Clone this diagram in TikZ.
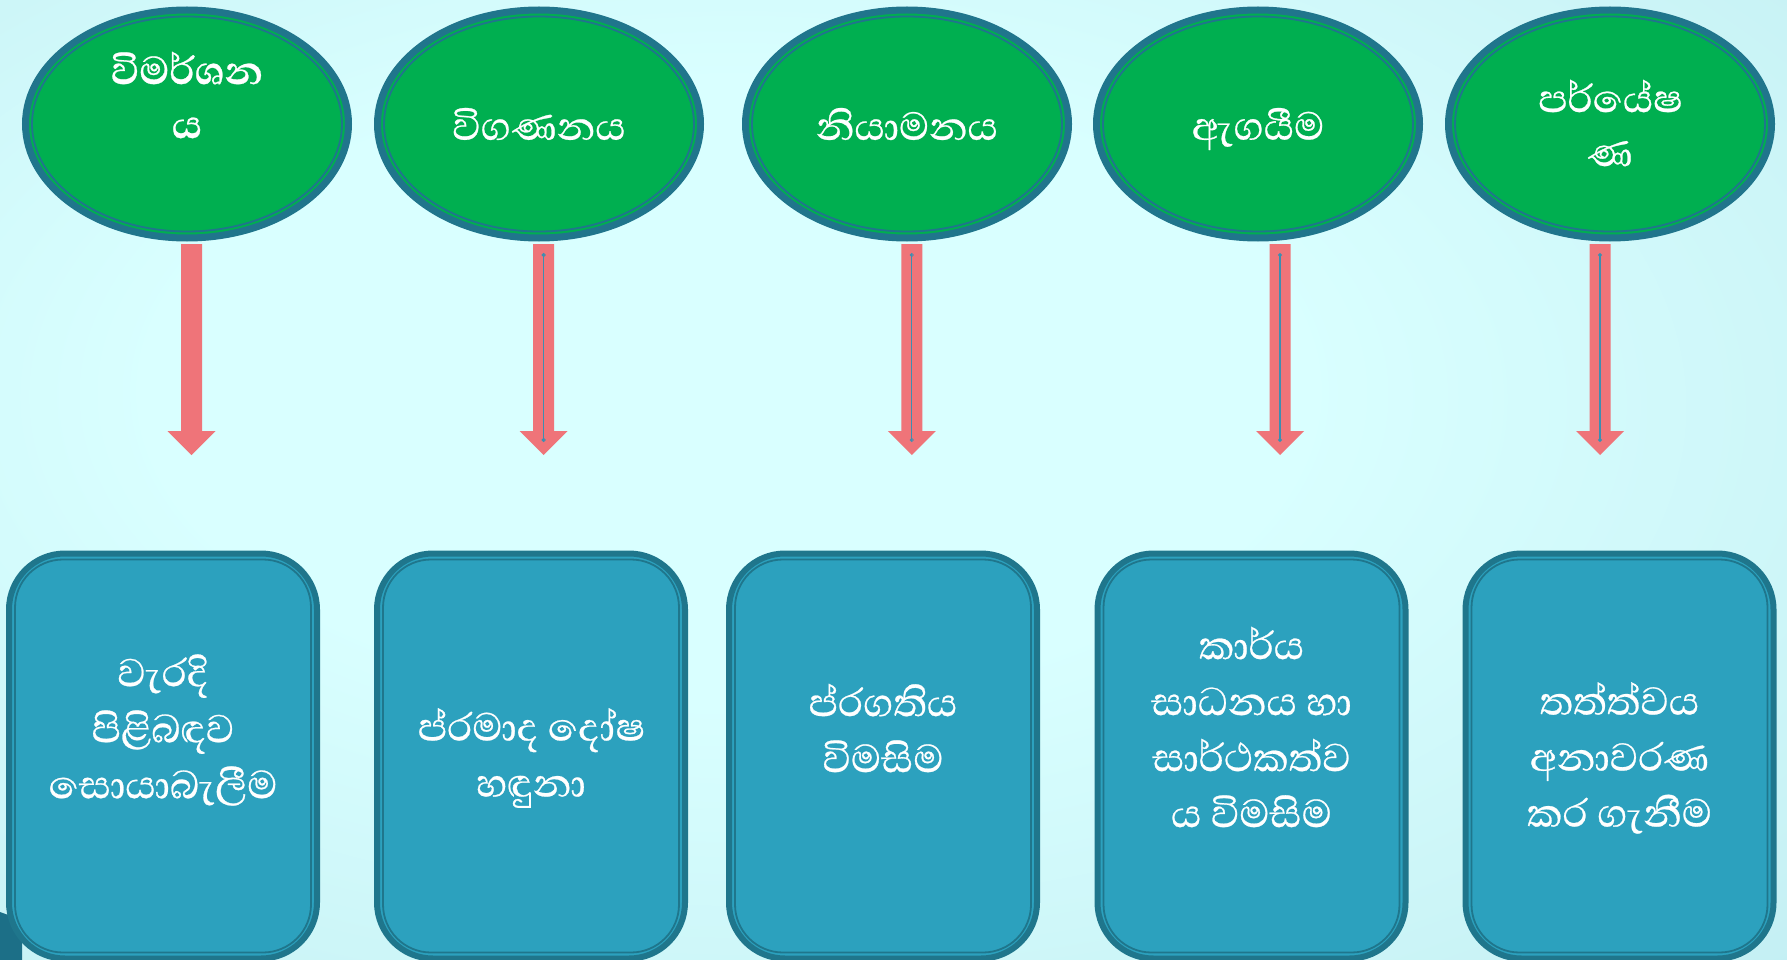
\documentclass[tikz,border=0pt]{standalone}
\usepackage{fontspec}
\newfontfamily\sinhfont[Script=Sinhala, FakeBold=0.5]{Abhaya Libre}
\usetikzlibrary{shapes.geometric,calc}

\definecolor{bgin}{HTML}{D9FFFF}
\definecolor{bgmid}{HTML}{C8F2F5}
\definecolor{bgedge}{HTML}{B5E5EE}
\definecolor{bgout}{HTML}{A8DBE7}
\definecolor{ringc}{HTML}{20758C}
\definecolor{ellfill}{HTML}{00AF50}
\definecolor{boxfill}{HTML}{2CA1BE}
\definecolor{boxline}{HTML}{1F768C}
\definecolor{arrowc}{HTML}{EF7479}
\definecolor{arrowline}{HTML}{3D8EB0}
\definecolor{cornerc}{HTML}{1C6F87}

\pgfdeclareradialshading{bgshade}{\pgfpoint{-6bp}{6bp}}{color(0bp)=(bgin); color(16bp)=(bgin); color(36bp)=(bgmid); color(52bp)=(bgedge); color(72bp)=(bgout)}

\newcommand\blockarr[2]{%
  \fill[arrowc] ($(#1)+(-10.5,0)$) -- ($(#1)+(10.5,0)$) -- ($(#2)+(10.5,-24)$) -- ($(#2)+(24,-24)$) -- (#2) -- ($(#2)+(-24,-24)$) -- ($(#2)+(-10.5,-24)$) -- cycle;}
\newcommand\midline[2]{%
  \draw[arrowline, line width=1.3pt] ($(#1)+(0,10)$) -- ($(#2)+(0,-14)$);
  \draw[arrowline, line width=0.8pt] ($(#1)+(0,11)$) circle (1.6pt) ($(#2)+(0,-15)$) circle (1.6pt);}

\begin{document}
\begin{tikzpicture}[x=1pt,y=-1pt,
  ell/.style={ellipse, draw=ringc, line width=7pt, fill=ellfill, minimum width=323pt, minimum height=228pt, inner sep=0pt},
  ring/.style={draw=ringc, line width=1.8pt},
  card/.style={rectangle, rounded corners=56pt, draw=boxline, line width=6pt, fill=boxfill, minimum width=308pt, minimum height=405pt, inner sep=0pt},
  cardring/.style={draw=boxline, line width=1.8pt, rounded corners=48pt},
  txt/.style={text=white, align=center, font=\sinhfont\fontsize{50}{56}\selectfont, inner sep=0pt},
  etxt/.style={txt, font=\sinhfont\fontsize{50}{54}\selectfont}
]
\useasboundingbox (0,0) rectangle (1787,960);
\begin{scope}
  \clip (0,0) rectangle (1787,960);
  \shade[shading=bgshade] (0,0) rectangle (1787,960);
  \fill[cornerc] (0,912) -- (22,920) -- (22,960) -- (0,960) -- cycle;
\end{scope}

% ellipses
\foreach \i/\x in {1/187,2/539,3/907,4/1258,5/1610}{
  \node[ell] (e\i) at (\x,124) {};
  \draw[ring] (e\i.center) ellipse [x radius=155, y radius=107.5];
}

% ellipse texts
\node[etxt, font=\sinhfont\bfseries\fontsize{50}{54}\selectfont] (le1) at (187,95) {විමර්ශන\\ය};
\node[etxt] (le2) at (539,124) {විගණනය};
\node[etxt] (le3) at (907,124) {නියාමනය};
\node[etxt] (le4) at (1258,129) {ඇගයීම};
\node[etxt] (le5) at (1610,123) {පර්යේෂ\\ණ};

% arrows
\foreach \i/\x in {1/191.5,2/543.6,3/911.8,4/1280,5/1600}{
  \coordinate (s\i) at (\x,244);
  \coordinate (t\i) at (\x,455);
}
\blockarr{s1}{t1}
\blockarr{s2}{t2}
\blockarr{s3}{t3}
\blockarr{s4}{t4}
\blockarr{s5}{t5}
\midline{s2}{t2}
\midline{s3}{t3}
\midline{s4}{t4}
\midline{s5}{t5}

% cards
\begin{scope}
\clip (0,0) rectangle (1787,960);
\foreach \i/\x in {1/163,2/531,3/883,4/1251.5,5/1619.5}{
  \node[card] (b\i) at (\x,756) {};
  \draw[cardring] ($(b\i.north west)+(9,9)$) rectangle ($(b\i.south east)+(-9,-9)$);
}
\end{scope}

\node[txt] (lb1) at (163,730) {වැරදි\\පිළිබඳව\\සොයාබැලීම};
\node[txt] (lb2) at (531,758) {ප්රමාද දෝෂ\\හඳුනා};
\node[txt] (lb3) at (883,728) {ප්රගතිය\\විමසිම};
\node[txt] (lb4) at (1251.5,727) {කාර්ය\\සාධනය හා\\සාර්ථකත්ව\\ය විමසිම};
\node[txt] (lb5) at (1619.5,758) {තත්ත්වය\\අනාවරණ\\කර ගැනීම};
\end{tikzpicture}
\end{document}
